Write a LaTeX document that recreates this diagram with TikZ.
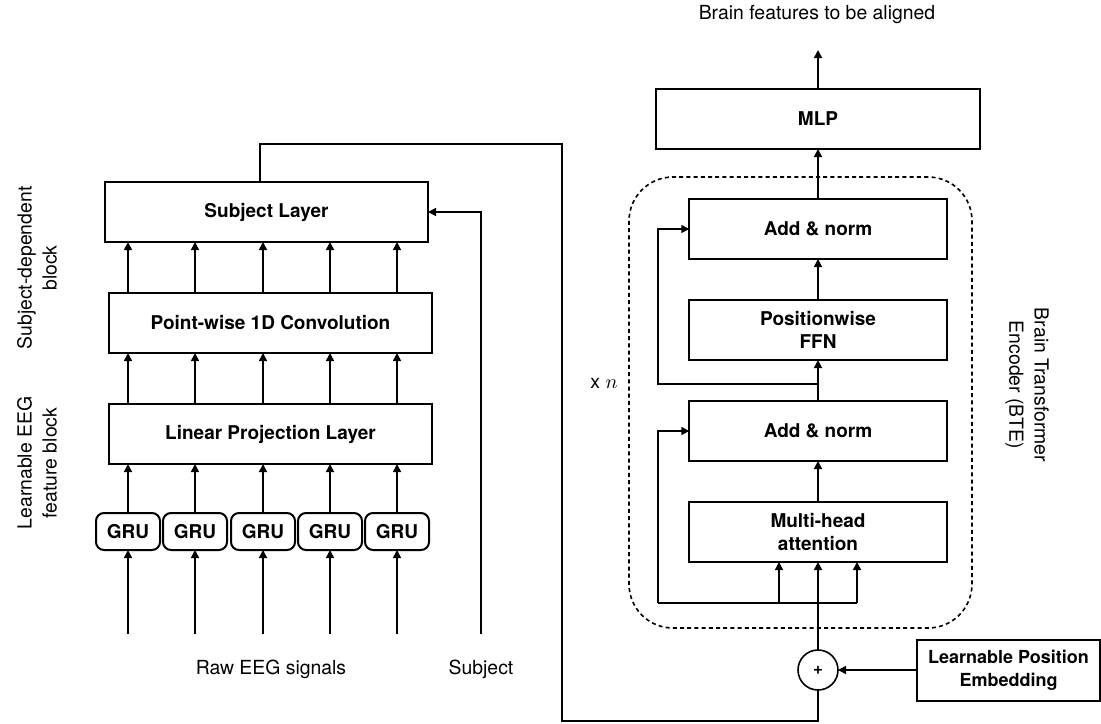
\documentclass[tikz,border=0pt]{standalone}
\usepackage{fontspec}
\setmainfont{TeX Gyre Heros}
\usetikzlibrary{arrows.meta,positioning}
\tikzset{
    blockbox/.style={draw, line width=1pt, align=center, inner sep=0pt, outer sep=0pt, font=\bfseries\fontsize{9.5}{11.8}\selectfont, minimum height=30pt},
    leftbox/.style={blockbox, minimum width=161.5pt},
    btebox/.style={blockbox, minimum width=128.75pt},
    grubox/.style={blockbox, rounded corners=4pt, minimum width=32pt, minimum height=18.5pt},
    sumnode/.style={draw, circle, line width=0.8pt, outer sep=0pt, minimum size=20pt, inner sep=0pt, font=\bfseries\fontsize{8.5}{9}\selectfont},
    plaintext/.style={font=\fontsize{9.7}{10.8}\selectfont, align=center, inner sep=0pt},
    sidetext/.style={plaintext, font=\fontsize{9.7}{12.6}\selectfont},
    flowarrow/.style={-{Triangle[length=4pt,width=4pt]}, line width=0.8pt},
    flowline/.style={line width=0.8pt},
    bteframe/.style={draw, dash pattern=on 2pt off 1.6pt, line width=0.8pt, rounded corners=22pt, minimum width=171.5pt, minimum height=225.5pt}
}
\begin{document}
\begin{tikzpicture}[x=0.5pt, y=-0.5pt, node distance=20.5pt]
        \useasboundingbox (0,0) rectangle (1101,723);

        % left branch
        \node[leftbox] (sublayer) at (266.5,212) {Subject Layer};
        \node[leftbox, below=25.5pt of sublayer, xshift=2pt] (pwconv) {Point-wise 1D Convolution};
        \node[leftbox, below=25.5pt of pwconv] (linproj) {Linear Projection Layer};
        \foreach \i/\x in {1/128,2/195,3/263,4/330,5/397} {
            \node[grubox] (gru\i) at (\x,531.5) {GRU};
        }
        \coordinate (rawin) at (0,634);
        \node[plaintext] (rawlbl) at (271,669) {Raw EEG signals};
        \node[plaintext] (sublbl) at (481,669) {Subject};
        \coordinate (subin) at (481,634);

        \node[sidetext, rotate=90] (sdlbl) at (37,268) {Subject-dependent\\block};
        \node[sidetext, rotate=90] (eeglbl) at (37,463) {Learnable EEG\\feature block};

        \foreach \i in {1,...,5} {
            \draw[flowarrow] (gru\i |- rawin) -- (gru\i.south);
            \draw[flowarrow] (gru\i.north) -- (gru\i |- linproj.south);
            \draw[flowarrow] (gru\i |- linproj.north) -- (gru\i |- pwconv.south);
            \draw[flowarrow] (gru\i |- pwconv.north) -- (gru\i |- sublayer.south);
        }
        \draw[flowarrow] (subin) |- (sublayer.east);

        % right branch
        \node[bteframe] (bte) at (800.5,402.5) {};
        \node[blockbox, minimum width=162pt] (mlp) at (818,119) {MLP};
        \node[btebox, below=25pt of mlp] (addnorma) {Add \& norm};
        \node[btebox, below=of addnorma] (ffn) {Positionwise\\FFN};
        \node[btebox, below=of ffn] (addnormb) {Add \& norm};
        \node[btebox, below=of addnormb] (mha) {Multi-head\\attention};
        \node[sumnode] (plus) at (818,670) {+};
        \node[blockbox, font=\bfseries\fontsize{9}{11.5}\selectfont, minimum width=91.5pt, minimum height=30.5pt] (posemb) at (1008.5,670) {Learnable Position\\Embedding};
        \coordinate (outtip) at (818,50);
        \node[plaintext] (outlbl) at (817,15) {Brain features to be aligned};
        \node[sidetext, rotate=-90] (btelbl) at (1027,385) {Brain Transformer\\Encoder (BTE)};
        \node[plaintext] (reps) at (604,383) {x $n$};

        \draw[flowarrow] (mlp.north) -- (outtip);
        \draw[flowarrow] (addnorma.north) -- (mlp.south);
        \draw[flowarrow] (ffn.north) -- (addnorma.south);
        \draw[flowarrow] (addnormb.north) -- (ffn.south);
        \draw[flowarrow] (mha.north) -- (addnormb.south);

        \coordinate (skipa) at (658,384);
        \draw[flowarrow] (ffn.south |- skipa) -- (skipa) |- (addnorma.west);
        \coordinate (skipb) at (658,603);
        \coordinate (qin) at (779,603);
        \coordinate (vin) at (857,603);
        \draw[flowline] (vin) -- (skipb);
        \draw[flowarrow] (skipb) |- (addnormb.west);
        \draw[flowarrow] (qin) -- (qin |- mha.south);
        \draw[flowarrow] (vin) -- (vin |- mha.south);
        \draw[flowarrow] (plus.north) -- (mha.south);
        \draw[flowarrow] (posemb.west) -- (plus.east);

        % subject layer output round to the sum
        \coordinate (loopa) at (562,144);
        \coordinate (loopb) at (562,721);
        \draw[flowline] ([xshift=-3.25pt]sublayer.north) |- (loopa) -- (loopb) -| (plus.south);
\end{tikzpicture}
\end{document}
